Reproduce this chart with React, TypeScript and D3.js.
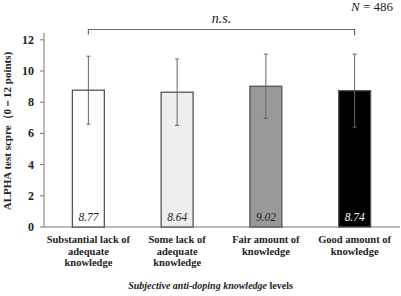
import React from "react";
import * as d3 from "d3";

const categories = [
  ["Substantial lack of", "adequate", "knowledge"],
  ["Some lack of", "adequate", "knowledge"],
  ["Fair amount of", "knowledge"],
  ["Good amount of", "knowledge"],
];
const means = [8.77, 8.64, 9.02, 8.74];
const sds = [2.18, 2.13, 2.06, 2.34];
const labels = ["8.77", "8.64", "9.02", "8.74"];
const fills = ["#ffffff", "#eeeeee", "#999999", "#000000"];
const labelColors = ["#222", "#222", "#222", "#ffffff"];
const yTicks = [0, 2, 4, 6, 8, 10, 12];

const F = "Liberation Serif";

export default function App() {
  const W = 401, H = 296;
  const x = d3.scaleBand<number>().domain(d3.range(4)).range([44, 399]).paddingInner(0.64).paddingOuter(0.32);
  const y = d3.scaleLinear().domain([0, 12]).range([227, 39.8]);
  const c0 = x(0)! + x.bandwidth() / 2;
  const c3 = x(3)! + x.bandwidth() / 2;
  const by = 29.5;
  return (
    <svg width={W} height={H} style={{ position: "absolute", left: 0, top: 0, background: "#fff" }}>
      {/* axes */}
      <line x1={44} x2={44} y1={33} y2={227} stroke="#777" strokeWidth={1} />
      <line x1={44} x2={400} y1={227} y2={227} stroke="#777" strokeWidth={1} />
      {yTicks.map((t) => (
        <g key={t}>
          <line x1={40} x2={44} y1={y(t)} y2={y(t)} stroke="#777" />
          <text x={34} y={y(t) + 4} textAnchor="end" fontFamily={F} fontSize={12} fontWeight="bold" fill="#222">{t}</text>
        </g>
      ))}
      {/* bars */}
      {means.map((m, i) => {
        const cx = x(i)! + x.bandwidth() / 2;
        return (
          <g key={i}>
            <rect x={x(i)!} y={y(m)} width={x.bandwidth()} height={y(0) - y(m)} fill={fills[i]} stroke="#555" strokeWidth={1.3} />
            <line x1={cx} x2={cx} y1={y(m + sds[i])} y2={y(m - sds[i])} stroke="#666" strokeWidth={1} />
            <line x1={cx - 2} x2={cx + 2} y1={y(m + sds[i])} y2={y(m + sds[i])} stroke="#666" />
            <line x1={cx - 2} x2={cx + 2} y1={y(m - sds[i])} y2={y(m - sds[i])} stroke="#666" />
            <text transform={`translate(${cx},221) scale(0.88,1)`} textAnchor="middle" fontFamily={F} fontSize={13} fontStyle="italic" fill={labelColors[i]}>{labels[i]}</text>
            {categories[i].map((line, j) => (
              <text key={j} x={cx} y={243 + j * 11.5} textAnchor="middle" fontFamily={F} fontSize={10.5} fontWeight="bold" fill="#222">{line}</text>
            ))}
          </g>
        );
      })}
      {/* bracket */}
      <path d={`M${c0},${by + 5}V${by}H${c3}V${by + 6}`} fill="none" stroke="#666" strokeWidth={1.2} />
      <text x={(c0 + c3) / 2} y={23} textAnchor="middle" fontFamily={F} fontSize={14} fontStyle="italic" fill="#222">n.s.</text>
      <text x={393} y={11} textAnchor="end" fontFamily={F} fontSize={13} fill="#222">
        <tspan fontStyle="italic">N</tspan> = 486
      </text>
      {/* axis titles */}
      <text x={210.5} y={289} textAnchor="middle" fontFamily={F} fontSize={10} fontWeight="bold" fill="#222">
        <tspan fontStyle="italic">Subjective anti-doping knowledge</tspan> levels
      </text>
      <text transform="translate(11,131) rotate(-90)" textAnchor="middle" fontFamily={F} fontSize={11} fontWeight="bold" fill="#222">
        ALPHA test scpre（0－12 points)
      </text>
    </svg>
  );
}
